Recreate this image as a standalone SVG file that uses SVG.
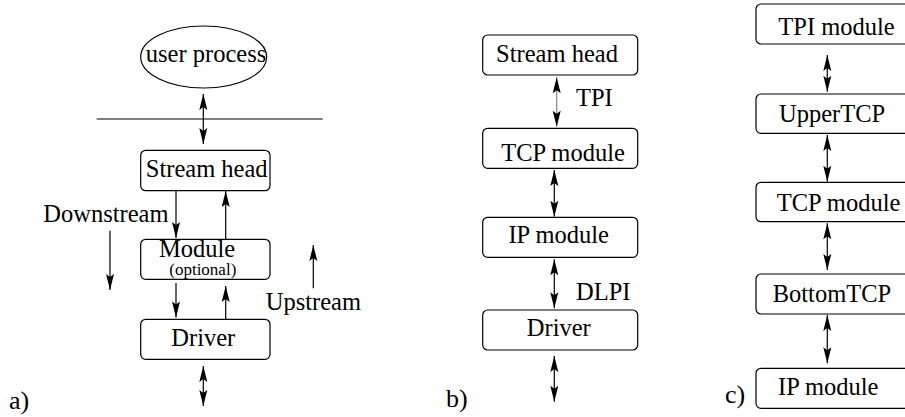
<svg xmlns="http://www.w3.org/2000/svg" width="905" height="417" viewBox="0 0 905 417">
  <style>
    .box { fill: #fff; stroke: #000; stroke-width: 1.2; }
    .lbl { font-family: 'Liberation Serif', 'Tinos', 'DejaVu Serif', serif; font-size: 24.5px; fill: #000; }
    .mid { text-anchor: middle; }
    .small { font-size: 17px; }
    .tag { font-family: 'Liberation Serif', 'Tinos', 'DejaVu Serif', serif; font-size: 26px; fill: #000; }
    .one { stroke: #000; stroke-width: 1.2; fill: none; marker-end: url(#head); }
    .two { stroke: #000; stroke-width: 1.2; fill: none; marker-start: url(#head); marker-end: url(#head); }
    .rule { stroke: #000; stroke-width: 1.2; fill: none; }
  </style>
  <defs>
    <marker id="head" markerUnits="userSpaceOnUse" markerWidth="18" markerHeight="10" viewBox="-16 -5 17 10" refX="0" refY="0" orient="auto-start-reverse">
      <path d="M0,0 L-16,-4 L-13,0 L-16,4 Z" fill="#000"/>
    </marker>
  </defs>
  <rect width="905" height="417" fill="#fff"/>

  <!-- connectors -->
  <g id="connectors">
    <!-- a) -->
    <line class="rule" x1="96.7" y1="119" x2="322.7" y2="119"/>
    <line class="two" x1="203.3" y1="94" x2="203.3" y2="144"/>
    <line class="one" x1="176" y1="190.7" x2="176" y2="238"/>
    <line class="one" x1="225.7" y1="239.3" x2="225.7" y2="191"/>
    <line class="one" x1="110" y1="230.7" x2="110" y2="290"/>
    <line class="one" x1="313.3" y1="288.3" x2="313.3" y2="245"/>
    <line class="one" x1="176" y1="283" x2="176" y2="317.5"/>
    <line class="one" x1="225.7" y1="319.3" x2="225.7" y2="286"/>
    <line class="two" x1="203.3" y1="366" x2="203.3" y2="406"/>
    <!-- b) -->
    <line class="two" x1="556.7" y1="77.3" x2="556.7" y2="126.7" style="stroke:#888"/>
    <line class="two" x1="554.3" y1="170" x2="554.3" y2="216.7"/>
    <line class="two" x1="554.3" y1="259.3" x2="554.3" y2="308.3"/>
    <line class="two" x1="554.3" y1="356" x2="554.3" y2="401.7"/>
    <!-- c) -->
    <line class="two" x1="827.3" y1="55" x2="827.3" y2="91.7"/>
    <line class="two" x1="827.3" y1="135" x2="827.3" y2="181.7"/>
    <line class="two" x1="827.3" y1="223.3" x2="827.3" y2="270"/>
    <line class="two" x1="827.3" y1="315" x2="827.3" y2="363.3"/>
  </g>

  <!-- a) -->
  <g id="user-process">
    <ellipse cx="203.7" cy="57" rx="63" ry="31" class="box"/>
    <text class="lbl mid" x="206" y="62">user process</text>
  </g>
  <g id="a-stream-head">
    <rect class="box" x="140.7" y="150.3" width="129.3" height="40.4" rx="5"/>
    <text class="lbl mid" x="206.7" y="176.7">Stream head</text>
  </g>
  <g id="a-module">
    <rect class="box" x="140.7" y="239.3" width="129.3" height="40" rx="5"/>
    <text class="lbl mid" x="197" y="256.5">Module</text>
    <text class="lbl mid small" x="202.8" y="274.5">(optional)</text>
  </g>
  <g id="a-driver">
    <rect class="box" x="140.7" y="319.3" width="129.3" height="40" rx="5"/>
    <text class="lbl mid" x="203.3" y="345.7">Driver</text>
  </g>
  <g id="a-labels">
    <text class="lbl" x="43.3" y="221.7">Downstream</text>
    <text class="lbl" x="265.7" y="310">Upstream</text>
    <text class="tag" x="9" y="409">a)</text>
  </g>

  <!-- b) -->
  <g id="b-stream-head">
    <rect class="box" x="482.7" y="35" width="155" height="40" rx="5"/>
    <text class="lbl mid" x="557" y="61.7">Stream head</text>
  </g>
  <g id="b-tcp-module">
    <rect class="box" x="482.7" y="128.3" width="155" height="40" rx="5"/>
    <text class="lbl mid" x="563" y="161">TCP module</text>
  </g>
  <g id="b-ip-module">
    <rect class="box" x="482.7" y="217.3" width="155" height="40" rx="5"/>
    <text class="lbl mid" x="558.7" y="243.3">IP module</text>
  </g>
  <g id="b-driver">
    <rect class="box" x="482.7" y="310" width="155" height="40" rx="5"/>
    <text class="lbl mid" x="558.8" y="336">Driver</text>
  </g>
  <g id="b-labels">
    <text class="lbl" x="576" y="106">TPI</text>
    <text class="lbl" x="576" y="300">DLPI</text>
    <text class="tag" x="446" y="407">b)</text>
  </g>

  <!-- c) -->
  <g id="c-tpi-module">
    <rect class="box" x="756" y="4" width="160" height="40" rx="5"/>
    <text class="lbl" x="778.3" y="35">TPI module</text>
  </g>
  <g id="c-upper-tcp">
    <rect class="box" x="756" y="94" width="160" height="39.3" rx="5"/>
    <text class="lbl" x="779" y="122.3">UpperTCP</text>
  </g>
  <g id="c-tcp-module">
    <rect class="box" x="756" y="182.3" width="160" height="39.4" rx="5"/>
    <text class="lbl" x="776.7" y="210.7">TCP module</text>
  </g>
  <g id="c-bottom-tcp">
    <rect class="box" x="756" y="274" width="160" height="40" rx="5"/>
    <text class="lbl" x="772.7" y="301.7">BottomTCP</text>
  </g>
  <g id="c-ip-module">
    <rect class="box" x="756" y="368.3" width="160" height="40" rx="5"/>
    <text class="lbl" x="778" y="395">IP module</text>
  </g>
  <g id="c-labels">
    <text class="tag" x="725" y="403">c)</text>
  </g>
</svg>
